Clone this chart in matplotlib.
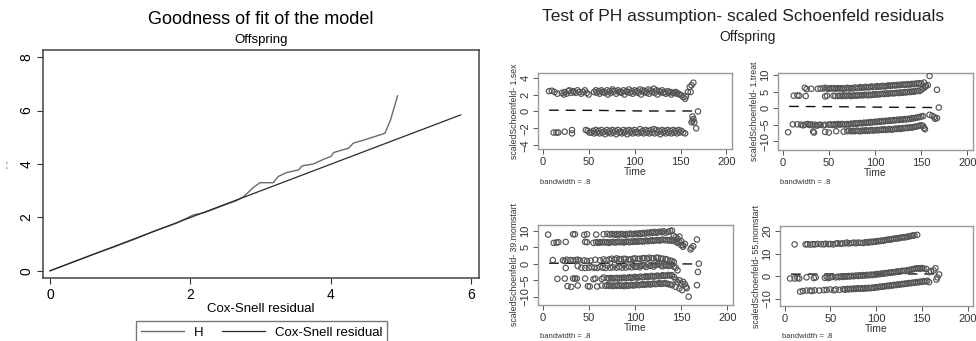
import matplotlib
matplotlib.use("Agg")
import matplotlib.pyplot as plt
from matplotlib.lines import Line2D

plt.rcParams['font.family'] = ['Liberation Sans', 'DejaVu Sans']

# ---- left panel: Cox-Snell goodness of fit ----
cs_x = [0, 0.3, 0.6, 0.9, 1.2, 1.5, 1.8, 2.04, 2.2, 2.52, 2.65, 2.76, 2.9, 2.99, 3.18, 3.25, 3.37,
        3.54, 3.59, 3.75, 3.9, 4.0, 4.04, 4.13, 4.25, 4.32, 4.51, 4.77, 4.85, 4.95]
cs_H = [0, 0.3, 0.6, 0.88, 1.18, 1.5, 1.78, 2.09, 2.18, 2.5, 2.62, 2.78, 3.13, 3.3, 3.3, 3.53, 3.68,
        3.78, 3.93, 4.0, 4.18, 4.28, 4.43, 4.5, 4.59, 4.78, 4.93, 5.15, 5.65, 6.55]
ref_x = [0, 5.85]
ref_y = [0, 5.84]

# ---- right panel: scaled Schoenfeld residuals (time, residual) ----
sex_upper = [(7, 2.4), (10, 2.45), (13, 2.3), (16, 2.1), (21, 2.2), (23, 2.0), (24, 2.3), (26, 2.1), (28, 2.4),
             (29, 2.5), (31, 2.2), (33, 2.4), (34, 2.3), (36, 2.2), (38, 2.5), (40, 2.3), (42, 2.1), (44, 2.3),
             (46, 2.5), (48, 2.2), (50, 2.0), (56, 2.3), (58, 2.5), (59, 2.2), (61, 2.4), (62, 2.1), (64, 2.5),
             (65, 2.3), (67, 2.3), (68, 2.2), (70, 2.5), (71, 2.0), (73, 2.4), (74, 2.2), (76, 2.6), (77, 2.4),
             (79, 2.4), (80, 2.1), (82, 2.5), (83, 2.3), (85, 2.3), (86, 2.2), (88, 2.5), (89, 2.0), (91, 2.4),
             (92, 2.3), (94, 2.6), (95, 2.2), (97, 2.4), (98, 2.1), (100, 2.5), (101, 2.3), (103, 2.4), (104, 2.2),
             (106, 2.6), (107, 2.0), (109, 2.5), (110, 2.3), (112, 2.4), (113, 2.2), (115, 2.6), (116, 2.1),
             (118, 2.5), (119, 2.3), (121, 2.7), (122, 2.2), (124, 2.5), (125, 2.0), (127, 2.4), (128, 2.3),
             (130, 2.5), (131, 2.2), (133, 2.3), (134, 2.1), (136, 2.4), (137, 2.2), (139, 2.3), (140, 2.0),
             (142, 2.2), (143, 2.2), (145, 2.3), (146, 2.1), (148, 2.1), (149, 2.0), (151, 1.9), (153, 1.7),
             (155, 1.5), (156, 1.8), (158, 2.3), (160, 2.9), (161, 2.3), (162, 3.1), (164, 3.4)]
sex_lower = [(12, -2.5), (15, -2.5), (17, -2.5), (24, -2.4), (32, -2.2), (32, -2.6), (47, -2.2), (49, -2.3),
             (51, -2.5), (53, -2.5), (55, -2.3), (56, -2.6), (58, -2.2), (59, -2.5), (61, -2.3), (62, -2.6),
             (64, -2.2), (65, -2.5), (67, -2.4), (68, -2.7), (70, -2.2), (71, -2.5), (73, -2.3), (74, -2.6),
             (76, -2.2), (77, -2.5), (79, -2.3), (80, -2.7), (82, -2.2), (83, -2.5), (85, -2.4), (86, -2.6),
             (88, -2.2), (89, -2.5), (91, -2.3), (92, -2.7), (94, -2.2), (95, -2.5), (97, -2.3), (98, -2.6),
             (100, -2.2), (101, -2.5), (103, -2.4), (104, -2.6), (106, -2.1), (107, -2.5), (109, -2.3),
             (110, -2.6), (112, -2.2), (113, -2.5), (115, -2.3), (116, -2.6), (118, -2.2), (119, -2.5),
             (121, -2.1), (122, -2.6), (124, -2.2), (125, -2.5), (127, -2.3), (128, -2.7), (130, -2.2),
             (131, -2.5), (133, -2.3), (134, -2.6), (136, -2.2), (137, -2.5), (139, -2.3), (140, -2.6),
             (142, -2.2), (143, -2.5), (145, -2.3), (146, -2.6), (148, -2.2), (149, -2.5), (151, -2.3),
             (153, -2.5), (155, -2.6)]
sex_tail = [(162, -1.3), (163, -0.6), (163, -1.1), (164, -0.9), (165, -1.3), (167, -2.0), (169, 0.0)]

treat_b1 = [(24, 6.2), (26, 5.8), (31, 5.9), (38, 5.9), (41, 6.0), (44, 6.0), (46, 6.2), (48, 6.0), (50, 5.9),
            (52, 6.1), (54, 6.0), (56, 6.1), (58, 5.9), (60, 6.1), (62, 6.0), (64, 6.1), (66, 5.9), (68, 6.0),
            (70, 6.2), (72, 6.0), (74, 6.1), (76, 6.0), (78, 6.3), (80, 6.1), (82, 6.2), (84, 6.4), (86, 6.2),
            (88, 6.3), (90, 6.5), (92, 6.3), (94, 6.4), (96, 6.6), (98, 6.4), (100, 6.5), (102, 6.7), (104, 6.5),
            (106, 6.6), (108, 6.8), (110, 6.6), (112, 6.7), (114, 6.9), (116, 6.8), (118, 6.9), (120, 7.0),
            (122, 6.9), (124, 7.1), (126, 7.0), (128, 7.1), (130, 7.2), (132, 7.1), (134, 7.2), (136, 7.3),
            (138, 7.2), (140, 7.4), (142, 7.3), (144, 7.5), (146, 7.4), (148, 7.6), (150, 7.5), (153, 7.8),
            (155, 6.8), (157, 7.0), (159, 9.8), (167, 5.6)]
treat_b2 = [(12, 3.8), (16, 3.9), (18, 3.8), (25, 3.7), (46, 3.6), (48, 3.8), (55, 3.8), (57, 3.7), (60, 3.7),
            (62, 3.8), (64, 3.7), (66, 3.9), (68, 3.7), (70, 3.8), (72, 3.9), (74, 3.7), (76, 3.8), (78, 3.9),
            (80, 3.8), (82, 3.9), (84, 4.0), (86, 3.9), (88, 4.0), (90, 4.1), (92, 3.9), (94, 4.1), (96, 4.0),
            (98, 4.2), (100, 4.1), (102, 4.3), (104, 4.2), (106, 4.3), (108, 4.4), (110, 4.3), (112, 4.5),
            (114, 4.4), (116, 4.5), (118, 4.6), (120, 4.5), (122, 4.6), (124, 4.7), (126, 4.6), (128, 4.8),
            (130, 4.7), (132, 4.9), (134, 4.8), (136, 5.0), (138, 4.9), (140, 5.1), (142, 5.0), (144, 5.2),
            (146, 5.3), (148, 5.2), (150, 5.6), (152, 6.0), (154, 6.4)]
treat_b3 = [(11, -4.9), (16, -4.9), (20, -5.0), (22, -5.2), (24, -5.0), (27, -4.8), (29, -5.1), (31, -4.9),
            (33, -5.2), (35, -5.0), (37, -5.3), (39, -5.1), (41, -5.0), (44, -5.2), (46, -5.0), (50, -5.0),
            (52, -4.9), (54, -5.1), (56, -4.9), (58, -5.0), (60, -4.8), (62, -5.0), (64, -4.8), (66, -4.9),
            (68, -5.0), (70, -4.8), (72, -4.9), (74, -4.7), (76, -4.8), (78, -4.6), (80, -4.7), (82, -4.6),
            (84, -4.5), (86, -4.6), (88, -4.4), (90, -4.5), (92, -4.3), (94, -4.4), (96, -4.2), (98, -4.3),
            (100, -4.1), (102, -4.2), (104, -4.0), (106, -4.1), (108, -3.9), (110, -4.0), (112, -3.8),
            (114, -3.9), (116, -3.7), (118, -3.8), (120, -3.6), (122, -3.7), (124, -3.5), (126, -3.6),
            (128, -3.4), (130, -3.5), (132, -3.3), (134, -3.4), (136, -3.2), (138, -3.3), (140, -3.0),
            (142, -3.1), (144, -2.9), (146, -2.8), (148, -2.7), (150, -2.5), (152, -2.4)]
treat_b4 = [(6, -7.3), (33, -7.1), (34, -7.4), (46, -7.2), (50, -7.4), (58, -7.0), (66, -7.1), (70, -7.0),
            (72, -6.8), (74, -7.0), (76, -6.9), (78, -7.0), (80, -6.8), (82, -6.9), (84, -7.0), (86, -6.8),
            (88, -6.9), (90, -6.7), (92, -6.9), (94, -6.8), (96, -6.6), (98, -6.8), (100, -6.7), (102, -6.6),
            (104, -6.7), (106, -6.5), (108, -6.6), (110, -6.4), (112, -6.6), (114, -6.5), (116, -6.3),
            (118, -6.5), (120, -6.4), (122, -6.2), (124, -6.3), (126, -6.1), (128, -6.3), (130, -6.0),
            (132, -6.1), (134, -5.9), (136, -6.0), (138, -5.8), (140, -5.9), (142, -5.7), (144, -5.6),
            (146, -5.5), (148, -5.3), (150, -5.2), (152, -5.4), (153, -6.0), (154, -6.4)]
treat_tail = [(159, -2.0), (162, -2.3), (164, -2.7), (165, -3.2), (167, -3.0), (169, 0.2)]

m39_a = [(6, 8.8), (33, 8.9), (35, 8.9), (45, 8.7), (48, 8.9), (58, 8.8), (66, 8.9), (70, 9.0), (73, 8.8),
         (75, 9.0), (77, 8.9), (79, 8.7), (81, 9.0), (83, 8.8), (85, 9.0), (87, 8.9), (89, 8.7), (91, 9.0),
         (93, 8.9), (95, 9.1), (97, 8.9), (99, 9.0), (101, 9.1), (103, 8.9), (105, 9.2), (107, 9.0), (109, 9.3),
         (111, 9.1), (113, 9.4), (115, 9.2), (117, 9.5), (119, 9.3), (121, 9.6), (123, 9.4), (125, 9.5),
         (127, 9.7), (129, 9.5), (131, 9.8), (133, 9.4), (136, 9.6), (138, 9.9), (140, 10.0), (142, 8.4),
         (144, 8.0), (146, 7.6), (148, 8.2), (150, 6.8), (152, 5.6), (154, 6.0), (160, 4.3), (161, 4.8),
         (163, 5.3), (167, 7.3)]
m39_b = [(12, 6.3), (15, 6.4), (17, 6.5), (25, 6.6), (46, 6.6), (48, 6.5), (55, 6.3), (58, 6.5), (60, 6.3),
         (62, 6.5), (64, 6.4), (66, 6.6), (68, 6.4), (70, 6.5), (72, 6.3), (74, 6.5), (76, 6.6), (78, 6.4),
         (80, 6.5), (82, 6.7), (84, 6.5), (86, 6.6), (88, 6.4), (90, 6.6), (92, 6.7), (94, 6.5), (96, 6.7),
         (98, 6.6), (100, 6.8), (102, 6.6), (104, 6.7), (106, 6.9), (108, 6.7), (110, 6.8), (112, 7.0),
         (114, 6.8), (116, 6.9), (118, 7.1), (120, 6.9), (122, 7.0), (124, 7.2), (126, 7.0), (128, 7.1),
         (130, 7.3), (132, 7.1), (134, 7.2), (136, 7.0), (138, 7.2), (140, 6.9), (142, 7.0), (144, 6.7),
         (146, 6.3), (148, 6.5), (150, 5.6), (152, 5.1)]
m39_c = [(11, 1.1), (22, 1.0), (24, 0.8), (26, 1.2), (30, 1.1), (33, 1.0), (36, 1.1), (38, 1.2), (40, 1.0),
         (45, 1.0), (48, 0.8), (52, 0.9), (57, 1.2), (62, 1.0), (66, 1.3), (69, 1.0), (72, 1.3), (75, 1.5),
         (78, 1.2), (80, 1.6), (83, 1.4), (85, 1.3), (88, 1.5), (90, 1.4), (93, 1.2), (95, 1.3), (98, 1.5),
         (100, 1.6), (103, 1.4), (105, 1.5), (108, 1.6), (110, 1.7), (113, 1.5), (115, 1.8), (118, 1.7),
         (120, 1.6), (123, 1.8), (125, 1.8), (128, 1.6), (130, 1.5), (133, 1.4), (135, 1.2), (138, 0.9),
         (140, 0.8), (142, 0.5)]
m39_d = [(25, -1.3), (38, -0.7), (42, -1.2), (46, -1.3), (50, -1.2), (53, -1.1), (56, -1.2), (59, -1.3),
         (62, -1.0), (65, -1.2), (68, -1.3), (70, -0.5), (73, -1.2), (76, -1.1), (78, -0.3), (80, -1.2),
         (83, -1.0), (86, -1.2), (88, -0.4), (90, -1.2), (93, -0.9), (96, -1.1), (98, -0.4), (100, -1.0),
         (102, -0.8), (105, -1.1), (106, -0.6), (108, -0.4), (110, -0.6), (112, -1.0), (114, -0.2),
         (116, -0.7), (118, -0.4), (120, -0.9), (122, -0.5), (124, -0.2), (126, -0.1), (128, -0.6),
         (130, -0.8), (132, -0.4), (134, -0.5), (136, -0.7), (138, -0.6), (140, -0.3), (142, -0.9),
         (144, -1.2), (146, -2.0), (168, -2.5), (167, -6.5), (169, 0.0)]
m39_e = [(16, -4.6), (24, -4.5), (33, -4.5), (35, -4.5), (37, -4.5), (46, -4.5), (55, -4.7), (57, -4.5),
         (64, -4.6), (66, -4.2), (70, -4.4), (72, -4.5), (74, -4.3), (76, -4.5), (78, -4.4), (80, -4.3),
         (82, -4.5), (84, -4.3), (86, -4.4), (88, -4.2), (90, -4.4), (92, -4.3), (94, -4.1), (96, -4.3),
         (98, -4.2), (100, -4.0), (102, -4.2), (104, -4.1), (106, -3.9), (108, -4.1), (110, -4.0),
         (112, -3.8), (114, -4.0), (116, -3.9), (118, -3.7), (120, -3.9), (122, -3.8), (124, -3.6),
         (126, -3.8), (128, -3.7), (130, -3.5), (132, -3.7), (134, -3.6), (136, -3.4), (138, -3.6),
         (140, -3.5), (142, -4.0), (144, -4.8), (146, -5.6), (148, -5.0), (150, -6.0), (152, -5.5),
         (154, -6.2), (156, -7.4)]
m39_f = [(27, -6.8), (31, -7.0), (38, -6.6), (49, -6.8), (51, -6.9), (59, -6.9), (64, -6.6), (68, -6.7),
         (70, -6.5), (72, -6.7), (74, -6.6), (76, -6.8), (78, -6.6), (80, -6.7), (82, -6.5), (84, -6.7),
         (86, -6.6), (88, -6.8), (90, -6.5), (92, -6.7), (94, -6.6), (96, -6.4), (98, -6.6), (100, -6.5),
         (102, -6.3), (104, -6.5), (106, -6.4), (108, -6.2), (110, -6.4), (112, -6.3), (114, -6.1),
         (116, -6.3), (118, -6.2), (120, -6.0), (122, -6.2), (124, -6.1), (126, -5.9), (128, -6.1),
         (130, -6.0), (132, -5.9), (134, -6.0), (136, -6.2), (138, -6.3), (140, -6.5), (144, -7.0),
         (148, -7.5), (151, -8.0), (155, -7.0), (158, -10.0)]

m55_a = [(11, 14.0), (23, 14.0), (25, 14.1), (28, 13.9), (31, 14.1), (33, 14.0), (36, 14.2), (40, 14.1),
         (43, 14.0), (45, 14.3), (48, 14.1), (50, 14.2), (53, 14.0), (56, 14.3), (58, 14.5), (61, 14.3),
         (63, 14.4), (66, 14.5), (68, 14.8), (70, 14.4), (73, 14.6), (76, 14.8), (78, 14.5), (80, 14.8),
         (83, 14.7), (86, 14.6), (88, 14.9), (90, 15.0), (92, 14.8), (94, 15.2), (96, 15.0), (98, 15.3),
         (100, 15.2), (102, 15.5), (104, 15.4), (106, 15.7), (108, 15.6), (110, 15.9), (112, 16.0),
         (114, 16.2), (116, 16.1), (118, 16.4), (120, 16.5), (122, 16.7), (124, 16.6), (126, 16.9),
         (128, 17.0), (130, 17.2), (132, 17.1), (134, 17.4), (136, 17.5), (138, 17.7), (140, 17.9),
         (142, 18.0), (145, 18.2)]
m55_b = [(6, -1.0), (11, -1.0), (14, -0.8), (16, -1.0), (24, -0.5), (32, -0.8), (34, -0.5), (44, -0.7),
         (46, -0.2), (48, -0.8), (50, -0.5), (52, -0.3), (56, -0.5), (58, -0.2), (60, -0.4), (62, -0.1),
         (64, -0.3), (66, 0.0), (68, -0.2), (70, 0.1), (72, -0.1), (74, 0.2), (76, 0.0), (78, 0.3), (80, 0.1),
         (82, 0.4), (84, 0.2), (86, 0.5), (88, 0.3), (90, 0.6), (92, 0.4), (94, 0.7), (96, 0.5), (98, 0.8),
         (100, 0.7), (102, 1.0), (104, 0.9), (106, 1.2), (108, 1.1), (110, 1.4), (112, 1.3), (114, 1.6),
         (116, 1.5), (118, 1.8), (120, 1.7), (122, 2.0), (124, 2.1), (126, 2.0), (128, 2.3), (130, 2.4),
         (132, 2.3), (134, 2.6), (136, 2.7), (138, 2.9), (140, 3.0), (142, 3.3), (144, 3.4), (146, 3.5),
         (148, 3.3), (150, 3.6), (152, 3.4), (155, 3.2), (158, 1.8), (160, 2.3), (163, 2.5), (165, 3.5),
         (166, -1.5), (167, -0.5), (169, 0.8)]
m55_c = [(17, -6.8), (20, -6.5), (24, -6.3), (28, -6.3), (30, -6.5), (33, -6.2), (38, -6.3), (43, -6.1),
         (46, -6.0), (50, -5.8), (54, -6.2), (56, -5.8), (60, -6.0), (64, -5.7), (66, -5.9), (68, -5.6),
         (70, -5.8), (72, -5.5), (74, -5.7), (76, -5.4), (78, -5.6), (80, -5.3), (82, -5.5), (84, -5.3),
         (86, -5.5), (88, -5.2), (90, -5.4), (92, -5.1), (94, -5.3), (96, -5.0), (98, -5.1), (100, -4.8),
         (102, -4.9), (104, -4.6), (106, -4.7), (108, -4.4), (110, -4.5), (112, -4.2), (114, -4.3),
         (116, -4.0), (118, -4.1), (120, -3.8), (122, -3.9), (124, -3.6), (126, -3.7), (128, -3.4),
         (130, -3.5), (132, -3.2), (134, -3.3), (136, -3.0), (138, -3.1), (140, -2.8), (142, -2.9),
         (144, -2.6), (146, -2.7), (148, -2.4), (150, -2.5), (152, -2.2), (154, -2.3), (156, -2.0),
         (158, -2.6)]

# lowess smooth (bandwidth .8)
smooth_t = [7, 60, 110, 169]
sex_smooth = [0.15, 0.12, 0.05, 0.05]
treat_smooth = [0.55, 0.45, 0.3, 0.2]
m39_smooth = [0.15, 0.1, 0.0, -0.1]
m55_smooth = [0.9, 1.0, 1.0, 1.0]

panels = [
    ("scaledSchoenfeld- 1.sex", [sex_upper, sex_lower, sex_tail], sex_smooth, (-4.45, 4.55), [-4, -2, 0, 2, 4]),
    ("scaledSchoenfeld- 1.treat", [treat_b1, treat_b2, treat_b3, treat_b4, treat_tail], treat_smooth,
     (-12.7, 10.7), [-10, -5, 0, 5, 10]),
    ("scaledSchoenfeld- 39.momstart", [m39_a, m39_b, m39_c, m39_d, m39_e, m39_f], m39_smooth,
     (-12.5, 11.7), [-10, -5, 0, 5, 10]),
    ("scaledSchoenfeld- 55.momstart", [m55_a, m55_b, m55_c], m55_smooth, (-13.1, 22.1), [-10, 0, 10, 20]),
]
# axes boxes in pixels: left, top, right, bottom
boxes = [(538, 73, 732, 149), (778, 73, 973, 150), (538, 225, 733, 305), (780, 226, 973, 306)]
bw_y = [183, 183, 337, 337]

W, H = 976, 341
fig = plt.figure(figsize=(W / 100, H / 100), dpi=100)


def rect(l, t, r, b):
    return [l / W, 1 - b / H, (r - l) / W, (b - t) / H]


# ---- left chart ----
ax = fig.add_axes(rect(43, 50, 479, 278))
ax.plot(cs_x, cs_H, color='#6a6a6a', lw=1.0)
ax.plot(ref_x, ref_y, color='#2a2a2a', lw=0.9)
ax.set_xlim(-0.1, 6.11)
ax.set_ylim(-0.27, 8.27)
ax.set_xticks([0, 2, 4, 6])
ax.set_yticks([0, 2, 4, 6, 8])
ax.tick_params(axis='both', labelsize=10, color='#333333', length=4, width=0.8, pad=3)
for lab in ax.get_yticklabels():
    lab.set_rotation(90)
    lab.set_va('center')
for s in ax.spines.values():
    s.set_color('#444444')
    s.set_linewidth(1.1)
ax.set_xlabel('Cox-Snell residual', fontsize=9.5, labelpad=1)
fig.text(11 / W, 1 - 165 / H, '" "', fontsize=5, rotation=90, ha='center', va='center', color='#555555')
fig.text(261 / W, 1 - 20 / H, 'Goodness of fit of the model', fontsize=13, ha='center', va='center')
fig.text(261 / W, 1 - 40 / H, 'Offspring', fontsize=9.5, ha='center', va='center')
handles = [Line2D([], [], color='#6a6a6a', lw=1.0), Line2D([], [], color='#2a2a2a', lw=0.9)]
leg = fig.legend(handles, ['H', 'Cox-Snell residual'], ncol=2, loc='upper center',
                 bbox_to_anchor=(261.5 / W, 1 - 321 / H), fontsize=9.5, frameon=True, fancybox=False,
                 handlelength=3.3, handletextpad=0.7, columnspacing=1.4, borderpad=0.4, borderaxespad=0)
leg.get_frame().set_edgecolor('#555555')
leg.get_frame().set_linewidth(1.0)

# ---- right chart ----
fig.text(743 / W, 1 - 17 / H, 'Test of PH assumption- scaled Schoenfeld residuals', fontsize=12.5,
         ha='center', va='center', color='#222222')
fig.text(748 / W, 1 - 37 / H, 'Offspring', fontsize=10, ha='center', va='center', color='#222222')

for (ylabel, bands, smooth, ylim, yticks), box, by in zip(panels, boxes, bw_y):
    a = fig.add_axes(rect(*box))
    for band in bands:
        t, r = zip(*band)
        a.scatter(t, r, s=15, facecolors='none', edgecolors='#555555', linewidths=0.85, zorder=3)
    a.plot(smooth_t, smooth, color='#111111', lw=1.0, ls=(0, (7, 5)), zorder=2)
    a.set_xlim(-5, 206)
    a.set_ylim(*ylim)
    a.set_xticks([0, 50, 100, 150, 200])
    a.set_yticks(yticks)
    a.tick_params(axis='both', labelsize=8, color='#555555', labelcolor='#333333', length=3.5, width=0.7, pad=2)
    for lab in a.get_yticklabels():
        lab.set_rotation(90)
        lab.set_va('center')
    for s in a.spines.values():
        s.set_color('#9a9a9a')
        s.set_linewidth(1.0)
    a.set_xlabel('Time', fontsize=7.5, labelpad=0, color='#333333')
    a.set_ylabel(ylabel, fontsize=6.3, labelpad=1, color='#333333')
    fig.text((box[0] + 2) / W, 1 - by / H, 'bandwidth = .8', fontsize=5.5,
             ha='left', va='center', color='#333333')

fig.savefig('out.png', dpi=100)
